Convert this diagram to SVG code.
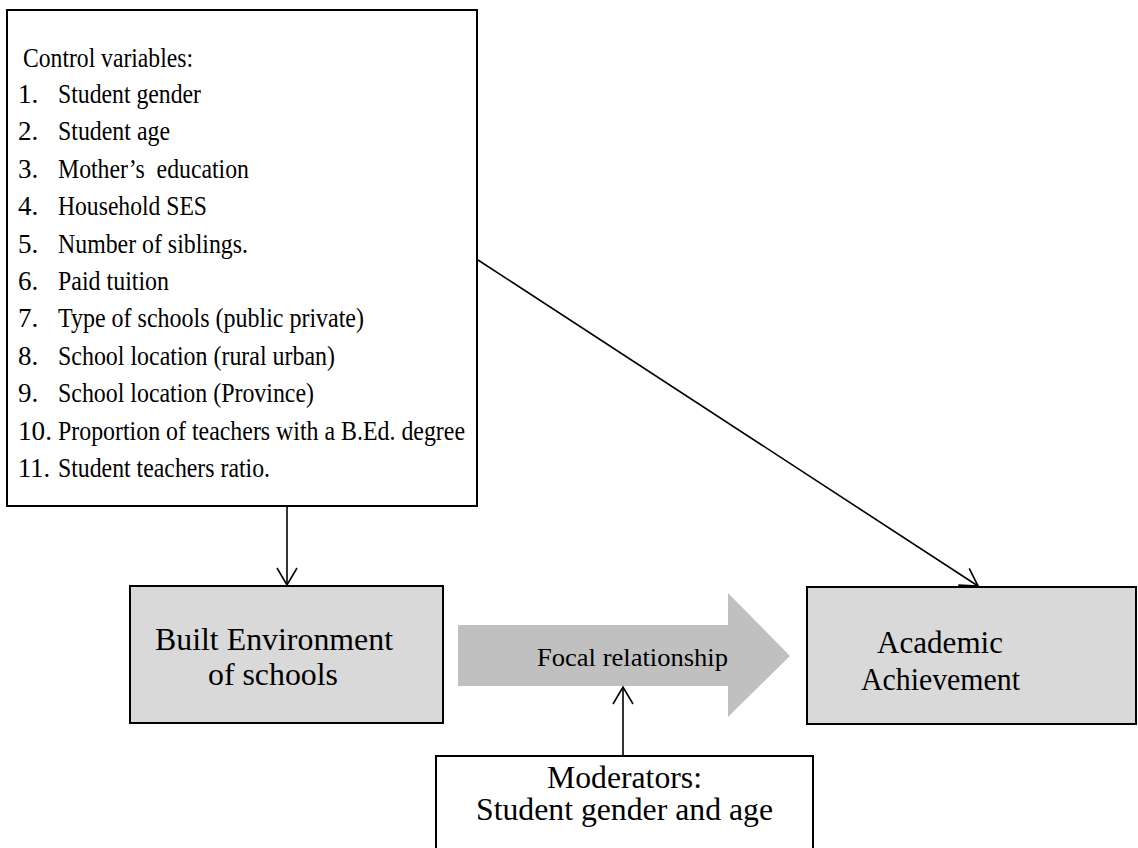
<svg xmlns="http://www.w3.org/2000/svg" width="1138" height="848" viewBox="0 0 1138 848">
<defs>
<style>
.t{font-family:'Times New Roman','Liberation Serif',Tinos,'DejaVu Serif',serif;fill:#000}
.list{font-size:27px}
.box{stroke:#000;stroke-width:2}
.conn{stroke:#000;stroke-width:1.6;fill:none}
</style>
<marker id="arr" markerUnits="userSpaceOnUse" markerWidth="24" markerHeight="24" viewBox="-20 -12 22 24" refX="0" refY="0" orient="auto">
<path d="M-17,-10 L0,0 L-17,10" fill="none" stroke="#000" stroke-width="1.6"/>
</marker>
</defs>
<rect width="1138" height="848" fill="#fff"/>
<g id="control">
<rect class="box" x="7" y="10" width="470" height="496" fill="#fff"/>
<g class="t list">
<text x="23" y="67" textLength="170" lengthAdjust="spacingAndGlyphs">Control variables:</text>
<text x="18" y="103">1.</text><text x="58" y="103" textLength="143" lengthAdjust="spacingAndGlyphs">Student gender</text>
<text x="18" y="140">2.</text><text x="58" y="140" textLength="112" lengthAdjust="spacingAndGlyphs">Student age</text>
<text x="18" y="178">3.</text><text x="58" y="178" textLength="191" lengthAdjust="spacingAndGlyphs" xml:space="preserve">Mother’s  education</text>
<text x="18" y="215">4.</text><text x="58" y="215" textLength="149" lengthAdjust="spacingAndGlyphs">Household SES</text>
<text x="18" y="253">5.</text><text x="58" y="253" textLength="190" lengthAdjust="spacingAndGlyphs">Number of siblings.</text>
<text x="18" y="290">6.</text><text x="58" y="290" textLength="111" lengthAdjust="spacingAndGlyphs">Paid tuition</text>
<text x="18" y="327">7.</text><text x="58" y="327" textLength="306" lengthAdjust="spacingAndGlyphs">Type of schools (public private)</text>
<text x="18" y="365">8.</text><text x="58" y="365" textLength="277" lengthAdjust="spacingAndGlyphs">School location (rural urban)</text>
<text x="18" y="402">9.</text><text x="58" y="402" textLength="256" lengthAdjust="spacingAndGlyphs">School location (Province)</text>
<text x="18" y="440" textLength="34" lengthAdjust="spacingAndGlyphs">10.</text><text x="58" y="440" textLength="407" lengthAdjust="spacingAndGlyphs">Proportion of teachers with a B.Ed. degree</text>
<text x="18" y="477" textLength="32" lengthAdjust="spacingAndGlyphs">11.</text><text x="58" y="477" textLength="212" lengthAdjust="spacingAndGlyphs">Student teachers ratio.</text>
</g>
</g>
<g id="built">
<rect class="box" x="130" y="586" width="313" height="137" fill="#d9d9d9"/>
<g class="t" font-size="32">
<text x="155" y="650" textLength="238" lengthAdjust="spacingAndGlyphs">Built Environment</text>
<text x="208" y="685" textLength="130" lengthAdjust="spacingAndGlyphs">of schools</text>
</g>
</g>
<g id="focal">
<polygon points="458,625 728,625 728,593 790,656 728,717 728,686 458,686" fill="#c0c0c0"/>
<text class="t" x="537" y="666" font-size="26" textLength="191" lengthAdjust="spacingAndGlyphs">Focal relationship</text>
</g>
<g id="academic">
<rect class="box" x="807" y="587" width="329" height="137" fill="#d9d9d9"/>
<g class="t" font-size="31">
<text x="877" y="653" textLength="126" lengthAdjust="spacingAndGlyphs">Academic</text>
<text x="861" y="690" textLength="159" lengthAdjust="spacingAndGlyphs">Achievement</text>
</g>
</g>
<g id="moderators">
<rect class="box" x="436" y="756" width="377" height="110" fill="#fff"/>
<g class="t" font-size="31">
<text x="547" y="788" textLength="155" lengthAdjust="spacingAndGlyphs">Moderators:</text>
<text x="476" y="820" textLength="297" lengthAdjust="spacingAndGlyphs">Student gender and age</text>
</g>
</g>
<g id="connectors">
<line class="conn" x1="287" y1="507" x2="287" y2="585" marker-end="url(#arr)"/>
<line class="conn" x1="478" y1="260" x2="978" y2="586" marker-end="url(#arr)"/>
<line class="conn" x1="623" y1="755" x2="623" y2="687" marker-end="url(#arr)"/>
</g>
</svg>
